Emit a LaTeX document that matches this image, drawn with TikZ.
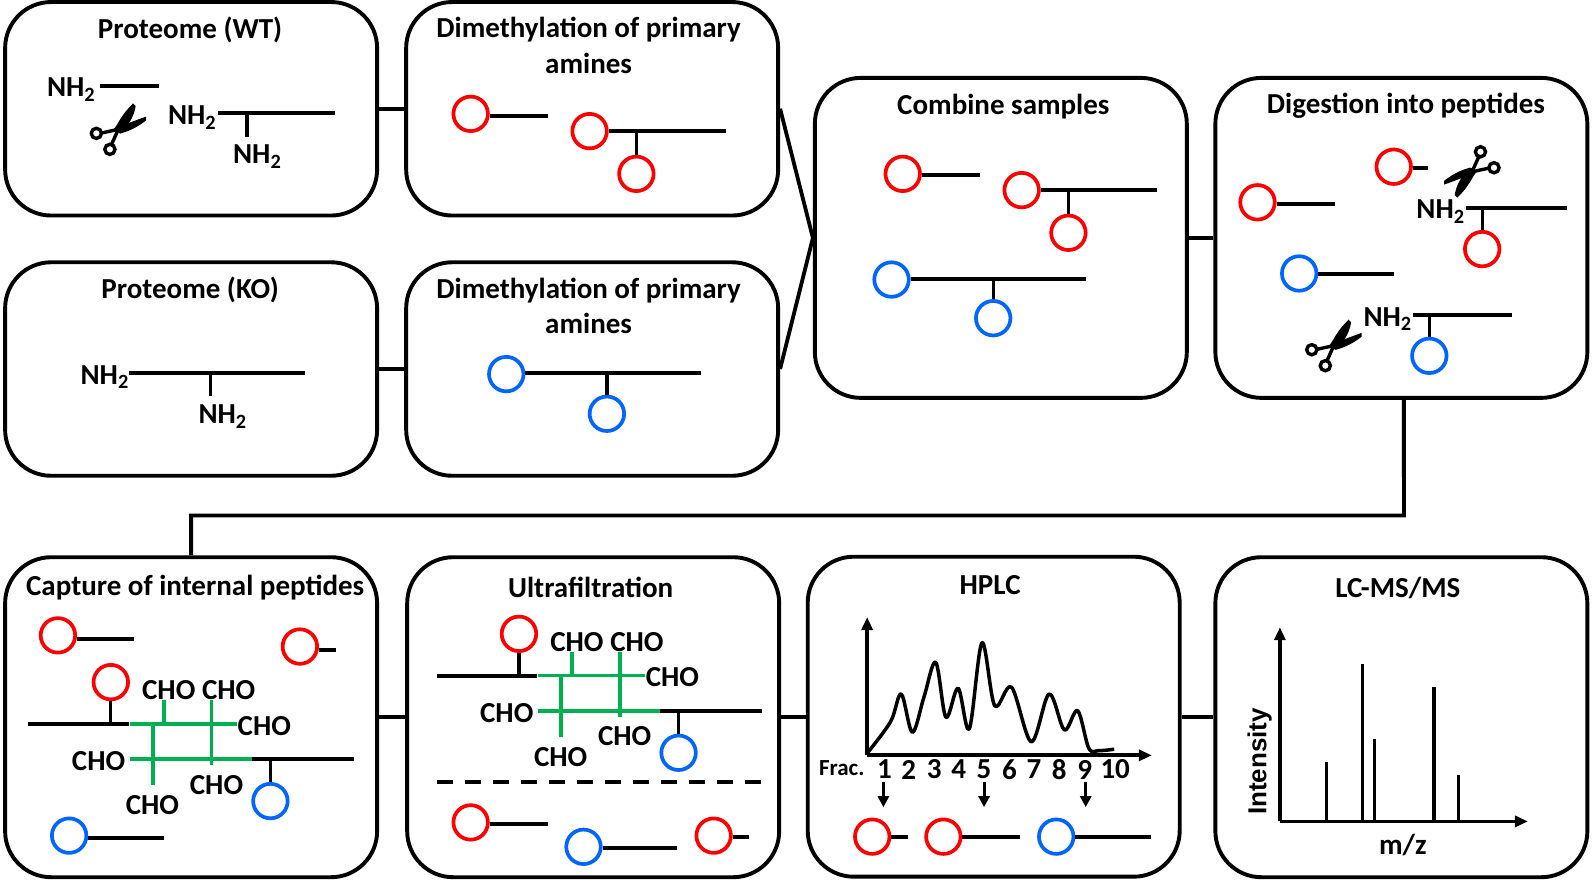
\documentclass[tikz,border=0pt]{standalone}
\usepackage{fontspec}
\setmainfont{Carlito}
\newfontfamily\widefont{Liberation Sans}
\usetikzlibrary{arrows.meta,calc}
\definecolor{pepred}{RGB}{255,0,0}
\definecolor{pepblue}{RGB}{0,102,255}
\definecolor{linkgreen}{RGB}{0,176,80}
\tikzset{
  x=1.0166pt,y=-1.0166pt,
  box/.style={draw=black,line width=3.9pt,rounded corners=46pt,minimum width=372pt,inner sep=0pt,fill=white},
  boxS/.style={box,minimum height=213.5pt},
  boxL/.style={box,minimum height=320pt},
  ttl/.style={font=\bfseries\fontsize{29}{32}\selectfont,inner sep=0pt,anchor=center,yshift=-1.5pt},
  lab/.style={font=\bfseries\fontsize{29}{32}\selectfont,inner sep=0pt,anchor=center},
  num/.style={font=\bfseries\fontsize{29}{32}\selectfont,inner sep=0pt,anchor=center},
  ring/.style={circle,draw=#1,line width=3.7pt,minimum size=34.5pt,inner sep=0pt,fill=white},
  ln/.style={line width=4pt,black},
  st/.style={line width=3.2pt,black},
  con/.style={line width=3.8pt,black},
  gr/.style={line width=3.8pt,linkgreen},
  axis/.style={line width=3.7pt,-{Triangle[length=13pt,width=11pt]}},
}
% peptide: name, colour, cx, cy, line y, line end x
\newcommand{\pep}[6]{%
  \node[ring=#2] (#1) at (#3,#4) {};
  \coordinate (#1-e) at (#6,#5);
  \draw[ln] (#1.east |- #1-e) -- (#1-e);
}
% side ring on a stem: name, colour, x, cy, y of stem top
\newcommand{\sidering}[5]{%
  \node[ring=#2] (#1) at (#3,#4) {};
  \coordinate (#1-t) at (#3,#5);
  \draw[st] (#1-t) -- (#1.north);
}
\newcommand{\nhtwo}[3]{\node[lab] (#1) at (#2,#3) {NH\textsubscript{2}};}
\newcommand{\seg}[6]{%
  \coordinate (#1-a) at (#3,#4);
  \coordinate (#1-b) at (#5,#6);
  \draw[#2] (#1-a) -- (#1-b);
}
\newcommand{\snip}[3]{%
  \begin{scope}[shift={(#1,#2)},rotate=#3]
    \fill[black] (15.5,-25.5) .. controls (7,-17) and (4,-12) .. (0,-5) -- (-4,1) -- (3,4) -- (6,1.3) .. controls (13,-7) and (17,-15) .. (18,-23) -- cycle;
    \fill[black] (28.4,-12.5) .. controls (18,-9) and (9,-5) .. (1,-3) -- (-4,1) -- (3,4) .. controls (12,2) and (21,-3) .. (28.4,-8.8) -- cycle;
    \draw[black,line width=3.4pt] (1,0) -- (-5.5,14.5);
    \draw[black,line width=3.4pt] (1,0) -- (-15,3.5);
    \draw[black,line width=3.4pt] (-7.3,19.7) circle (5);
    \draw[black,line width=3.4pt] (-20.6,4) circle (5);
  \end{scope}
}
% the cross-linked complex, shifted by dx,dy; #1 name prefix
\newcommand{\complex}[3]{%
  \begin{scope}[shift={(#2,#3)}]
    \seg{#1ua}{ln}{28}{712}{127}{712}
    \seg{#1ub}{gr}{128}{712}{233}{712}
    \seg{#1la}{gr}{128}{747}{248}{747}
    \seg{#1lb}{ln}{248}{747}{348}{747}
    \seg{#1v1}{gr}{150.5}{712}{150.5}{772}
    \seg{#1v2}{gr}{208}{689}{208}{753}
    \seg{#1v3}{gr}{161.5}{689}{161.5}{712}
    \node[ring=pepred] (#1r) at (109,671) {};
    \coordinate (#1rb) at (109,712);
    \draw[st] (#1r.south) -- (#1rb);
    \sidering{#1b}{pepblue}{266}{788}{747}
    \node[lab] (#1c1) at (166,679) {CHO};
    \node[lab] (#1c2) at (225,679) {CHO};
    \node[lab] (#1c3) at (260,714) {CHO};
    \node[lab] (#1c4) at (97,749) {CHO};
    \node[lab] (#1c5) at (213,772) {CHO};
    \node[lab] (#1c6) at (150,792) {CHO};
  \end{scope}
}
\begin{document}
\begin{tikzpicture}
\path[use as bounding box] (0,0) rectangle (1568,866);
\node[boxS] (b1) at (188,107) {};
\node[boxS] (b2) at (582.5,107) {};
\node[boxS] (b3) at (188,363) {};
\node[boxS] (b4) at (582.5,363) {};
\node[boxL] (b5) at (984.5,234) {};
\node[boxL] (b6) at (1378.5,234) {};
\node[boxL] (b7) at (188,705.5) {};
\node[boxL] (b8) at (583.5,705.5) {};
\node[boxL] (b9) at (977.5,705) {};
\node[boxL] (b10) at (1378.5,705.5) {};
\draw[con] (b1) -- (b2);
\draw[con] (b3) -- (b4);
\draw[con] (b2.east) -- (b5.west);
\draw[con] (b4.east) -- (b5.west);
\draw[con] (b5) -- (b6);
\coordinate (turnA) at (1381,507);
\coordinate (turnB) at (188,507);
\draw[con] ([xshift=2.5pt]b6.south) -- (turnA) -- (turnB) -- (b7.north);
\draw[con] (b7) -- (b8);
\draw[con] (b8) -- (b9);
\draw[con] (b9.east) -- (b10.west |- b9.east);
% titles
\node[ttl] (t1) at (187,28) {Proteome (WT)};
\node[ttl] (t2a) at (579,28) {Dimethylation of primary};
\node[ttl] (t2b) at (579,61) {amines};
\node[ttl] (t3) at (187,284) {Proteome (KO)};
\node[ttl] (t4a) at (579,284) {Dimethylation of primary};
\node[ttl] (t4b) at (579,317) {amines};
\node[ttl] (t5) at (987,103) {Combine samples};
\node[ttl] (t6) at (1383,103) {Digestion into peptides};
\node[ttl] (t7) at (192,577) {Capture of internal peptides};
\node[ttl] (t8) at (581,576) {Ultrafiltration};
\node[ttl] (t9) at (974,574) {HPLC};
\node[ttl] (t10) at (1375,576.5) {LC-MS/MS};
% box 1
\nhtwo{n1}{70}{88}
\seg{s1}{ln}{98}{85}{156}{85}
\nhtwo{n2}{189}{116}
\seg{s2}{ln}{214}{111}{330}{111}
\seg{s3}{st}{243}{111}{243}{135}
\nhtwo{n3}{253}{154}
\snip{115.4}{127.2}{0}
% box 3
\nhtwo{n4}{103}{371}
\seg{s4}{ln}{127}{367}{300}{367}
\seg{s5}{st}{207}{367}{207}{390}
\nhtwo{n5}{219}{410}
% box 2
\pep{p1}{pepred}{463}{112}{114}{539}
\pep{p2}{pepred}{580}{129}{129}{714}
\sidering{p3}{pepred}{626}{171}{129}
% box 4
\pep{p4}{pepblue}{498}{368}{367}{690}
\sidering{p5}{pepblue}{597}{407}{367}
% box 5
\pep{p6}{pepred}{888}{171}{172}{964}
\pep{p7}{pepred}{1005}{187}{187}{1138}
\sidering{p8}{pepred}{1051}{229}{187}
\pep{p9}{pepblue}{877}{275}{274}{1068}
\sidering{p10}{pepblue}{977}{313}{274}
% box 6
\pep{p11}{pepred}{1237}{199}{201}{1313}
\pep{p12}{pepred}{1371}{164}{165}{1405}
\pep{p13}{pepblue}{1278}{269}{270}{1371}
\nhtwo{n6}{1417}{208}
\seg{s6}{ln}{1442}{205}{1541}{205}
\sidering{p14}{pepred}{1458}{245}{205}
\nhtwo{n7}{1365}{314}
\seg{s7}{ln}{1390}{310}{1487}{310}
\sidering{p15}{pepblue}{1406}{350}{310}
\snip{1449}{169}{180}
\snip{1311}{340}{0}
% box 7
\pep{p16}{pepred}{57}{625}{629}{132}
\pep{p17}{pepred}{295}{636}{639}{331}
\pep{p18}{pepblue}{68}{822}{824}{161}
\complex{xa}{0}{0}
% box 8
\complex{xb}{401.5}{-47.5}
\coordinate (dashA) at (430,769);
\coordinate (dashB) at (750,769);
\draw[line width=3.8pt,dash pattern=on 16pt off 12pt] (dashA) -- (dashB);
\pep{p19}{pepred}{463}{809}{811}{539}
\pep{p20}{pepblue}{574}{833}{834}{666}
\pep{p21}{pepred}{702}{822}{823}{737}
% box 9: chromatogram
\coordinate (hO) at (853,743);
\coordinate (hY) at (853,607);
\coordinate (hX) at (1133,743);
\draw[axis] (hO) -- (hY);
\draw[axis] (hO) -- (hX);
\draw[line width=3.5pt,black,line join=round] plot[smooth,tension=0.55] coordinates {
 (853,741) (876,710) (886.5,682.7) (897.5,720.4) (909,685.3) (920.5,651.5) (930.5,705.6) (942.5,677) (953.5,717) (966,632.2) (978.5,694.2) (995,676) (1014.5,729.6) (1032,682.7) (1047,718) (1060,699) (1071,736) (1081,738.4) (1096,737)};
\node[font=\fontsize{23}{26}\selectfont\bfseries,inner sep=0pt] (frac) at (828,756) {Frac.};
\foreach \tx/\lbl in {870/1,894/2,919/3,943/4,968/5,993/6,1017/7,1042/8,1067/9,1097/10}
  \node[num] (f\lbl) at (\tx,757) {\lbl};
\foreach \tx/\nm in {869/a,968/b,1068/c}{
  \coordinate (dn\nm a) at (\tx,769);
  \coordinate (dn\nm b) at (\tx,794);
  \draw[line width=3pt,-{Triangle[length=11pt,width=11pt]}] (dn\nm a) -- (dn\nm b);
}
\pep{p22}{pepred}{858}{823}{823}{893}
\pep{p23}{pepred}{928}{823}{823}{1003}
\pep{p24}{pepblue}{1039}{823}{823}{1132}
% box 10: spectrum
\coordinate (mO) at (1259,808);
\coordinate (mY) at (1259,617);
\coordinate (mX) at (1503,808);
\draw[axis] (mO) -- (mY);
\draw[axis] (mO) -- (mX);
\foreach \sx/\sy/\nm in {1305/750/a,1340.5/653/b,1352/727/c,1410.5/676/d,1434.5/762/e}{
  \coordinate (pk\nm a) at (\sx,808);
  \coordinate (pk\nm b) at (\sx,\sy);
  \draw[line width=3.3pt] (pk\nm a) -- (pk\nm b);
}
\node[inner sep=0pt,rotate=90,font=\widefont\bfseries\fontsize{26}{28}\selectfont] (iy) at (1239,749) {Intensity};
\node[lab] (mz) at (1380,831) {m/z};
\end{tikzpicture}
\end{document}
